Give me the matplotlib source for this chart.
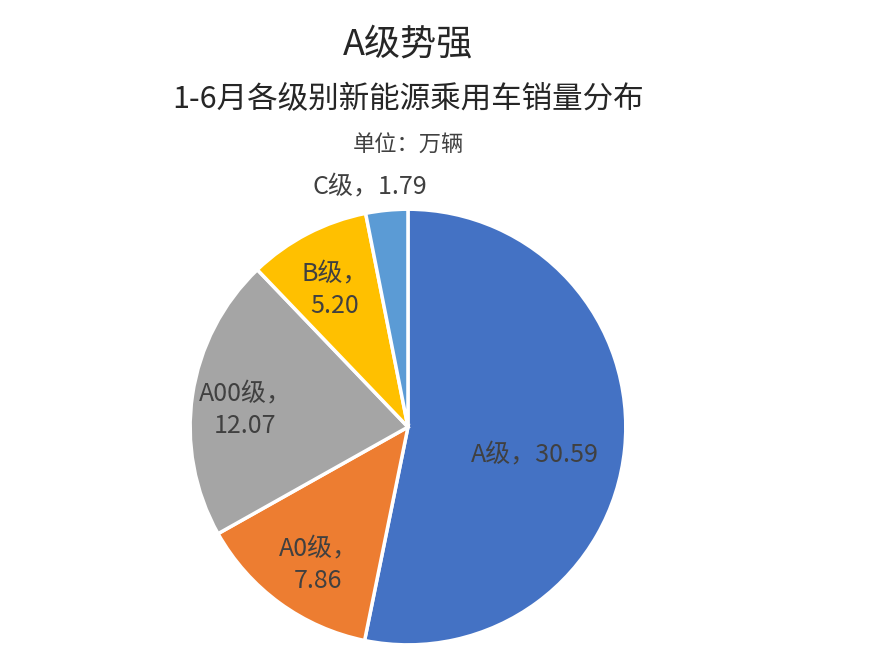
import matplotlib
matplotlib.use("Agg")
import matplotlib.pyplot as plt

plt.rcParams["font.family"] = "Noto Sans CJK SC"

categories = ["A级", "A0级", "A00级", "B级", "C级"]
values = [30.59, 7.86, 12.07, 5.20, 1.79]
colors = ["#4472C4", "#ED7D31", "#A5A5A5", "#FFC000", "#5B9BD5"]
label_texts = ["A级，30.59", "A0级，\n7.86", "A00级，\n12.07", "B级，\n5.20", "C级，1.79"]

fig = plt.figure(figsize=(8.8, 6.49), dpi=100)
ax = fig.add_axes([0.2136, 0.003, 0.5, 0.678])
ax.pie(values, colors=colors, startangle=90, counterclock=False,
       wedgeprops=dict(edgecolor="white", linewidth=2.5))
ax.set_xlim(-1.01, 1.01)
ax.set_ylim(-1.01, 1.01)
ax.set_aspect("equal")

label_pos = [(535, 455), (318, 565), (245, 410), (335, 290), (370, 187)]
for t, (x, y) in zip(label_texts, label_pos):
    fig.text(x / 880, 1 - y / 649, t, ha="center", va="center", fontsize=18,
             color="#404040", linespacing=1.3)

fig.text(408 / 880, 1 - 45 / 649, "A级势强", ha="center", va="center", fontsize=26, color="#262626")
fig.text(408 / 880, 1 - 100 / 649, "1-6月各级别新能源乘用车销量分布", ha="center", va="center", fontsize=22, color="#262626")
fig.text(408 / 880, 1 - 145 / 649, "单位：万辆", ha="center", va="center", fontsize=16, color="#404040")

fig.savefig("out.png", dpi=100)
